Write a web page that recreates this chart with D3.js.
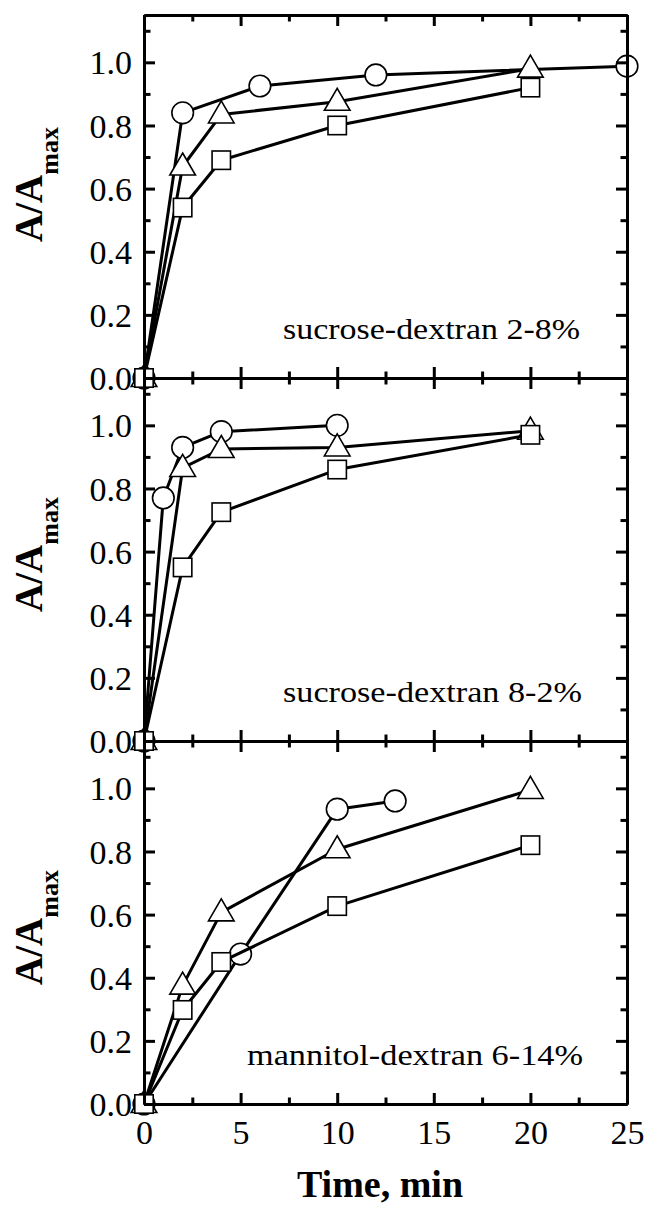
<!DOCTYPE html>
<html>
<head>
<meta charset="utf-8">
<script src="https://cdn.jsdelivr.net/npm/d3@7"></script>
<style>
  html, body { margin: 0; padding: 0; background: #fff; }
  svg { display: block; }
  text { font-family: "Liberation Serif", "Times New Roman", serif; fill: #000; }
</style>
</head>
<body>
<svg id="chart" width="649" height="1209"></svg>
<script>
// ---- data ----
const panelLabels = ["sucrose-dextran 2-8%", "sucrose-dextran 8-2%", "mannitol-dextran 6-14%"];
const xTickValues = [0, 5, 10, 15, 20, 25];
const xMinorTickValues = [2.5, 7.5, 12.5, 17.5, 22.5];
const yTickValues = [0, 0.2, 0.4, 0.6, 0.8, 1.0];
const yMinorTickValues = [0.1, 0.3, 0.5, 0.7, 0.9, 1.1];

// panel 1: sucrose-dextran 2-8%
const p1CircleT = [0, 2, 6, 12, 25];
const p1CircleV = [0, 0.84, 0.925, 0.96, 0.988];
const p1TriangleT = [0, 2, 4, 10, 20];
const p1TriangleV = [0, 0.67, 0.835, 0.875, 0.98];
const p1SquareT = [0, 2, 4, 10, 20];
const p1SquareV = [0, 0.54, 0.69, 0.80, 0.92];

// panel 2: sucrose-dextran 8-2%
const p2CircleT = [0, 1, 2, 4, 10];
const p2CircleV = [0, 0.77, 0.93, 0.98, 1.0];
const p2TriangleT = [0, 2, 4, 10, 20];
const p2TriangleV = [0, 0.865, 0.925, 0.93, 0.983];
const p2SquareT = [0, 2, 4, 10, 20];
const p2SquareV = [0, 0.55, 0.725, 0.86, 0.97];

// panel 3: mannitol-dextran 6-14%
const p3CircleT = [0, 5, 10, 13];
const p3CircleV = [0, 0.475, 0.934, 0.96];
const p3TriangleT = [0, 2, 4, 10, 20];
const p3TriangleV = [0, 0.375, 0.607, 0.807, 0.995];
const p3SquareT = [0, 2, 4, 10, 20];
const p3SquareV = [0, 0.298, 0.45, 0.627, 0.82];

const panelSeries = [
  [{shape: "circle", t: p1CircleT, v: p1CircleV}, {shape: "triangle", t: p1TriangleT, v: p1TriangleV}, {shape: "square", t: p1SquareT, v: p1SquareV}],
  [{shape: "circle", t: p2CircleT, v: p2CircleV}, {shape: "triangle", t: p2TriangleT, v: p2TriangleV}, {shape: "square", t: p2SquareT, v: p2SquareV}],
  [{shape: "circle", t: p3CircleT, v: p3CircleV}, {shape: "triangle", t: p3TriangleT, v: p3TriangleV}, {shape: "square", t: p3SquareT, v: p3SquareV}]
];

// ---- layout ----
const left = 144, right = 627, top0 = 15, panelH = 363;
const annot = [{x: 283, len: 297}, {x: 283, len: 299}, {x: 247, len: 336}];
const annotBaselineFromBottom = 39;
const ylabelShift = [-12, -5, 5];
const tickFont = 34;

const svg = d3.select("#chart");
const x = d3.scaleLinear().domain([0, 25]).range([left, right]);

const sym = {
  circle: g => g.append("circle").attr("r", 10.8),
  square: g => g.append("rect").attr("x", -9.2).attr("y", -9.2).attr("width", 18.4).attr("height", 18.4),
  triangle: g => g.append("path").attr("d", "M0,-13.5L12.8,8.5L-12.8,8.5Z")
};

panelSeries.forEach((series, pi) => {
  const pTop = top0 + pi * panelH;
  const pBot = pTop + panelH;
  const y = d3.scaleLinear().domain([0, 1.15]).range([pBot, pTop]);
  const g = svg.append("g");

  // series
  series.forEach(s => {
    const pts = s.t.map((t, i) => [t, s.v[i]]);
    const line = d3.line().x(d => x(d[0])).y(d => y(d[1]));
    g.append("path").datum(pts).attr("d", line)
      .attr("fill", "none").attr("stroke", "#000").attr("stroke-width", 3).attr("stroke-linejoin", "round");
    pts.forEach(p => {
      const m = g.append("g").attr("transform", `translate(${x(p[0])},${y(p[1])})`);
      sym[s.shape](m).attr("fill", "#fff").attr("stroke", "#000").attr("stroke-width", 1.6);
    });
  });

  // axes (ticks inward)
  const axStyle = sel => {
    sel.selectAll("path.domain").attr("stroke-width", 3).attr("stroke", "#000");
    sel.selectAll(".tick line").attr("stroke-width", 3).attr("stroke", "#000");
  };
  // bottom
  const bAx = g.append("g").attr("transform", `translate(0,${pBot})`)
    .call(d3.axisBottom(x).tickValues(xTickValues).tickSize(-11).tickSizeOuter(0).tickFormat(pi === 2 ? d3.format("d") : ""))
    .call(axStyle);
  bAx.selectAll("text").attr("y", 40).attr("dy", 0).attr("font-size", tickFont);
  g.append("g").attr("transform", `translate(0,${pBot})`)
    .call(d3.axisBottom(x).tickValues(xMinorTickValues).tickSize(-6.5).tickSizeOuter(0).tickFormat(""))
    .call(axStyle);
  // top
  g.append("g").attr("transform", `translate(0,${pTop})`)
    .call(d3.axisTop(x).tickValues(xTickValues).tickSize(-11).tickSizeOuter(0).tickFormat(""))
    .call(axStyle);
  g.append("g").attr("transform", `translate(0,${pTop})`)
    .call(d3.axisTop(x).tickValues(xMinorTickValues).tickSize(-6.5).tickSizeOuter(0).tickFormat(""))
    .call(axStyle);
  // left
  const lAx = g.append("g").attr("transform", `translate(${left},0)`)
    .call(d3.axisLeft(y).tickValues(yTickValues).tickSize(-11).tickSizeOuter(0).tickPadding(12).tickFormat(d3.format(".1f")))
    .call(axStyle);
  lAx.selectAll("text").attr("font-size", tickFont).attr("dy", "0.34em");
  g.append("g").attr("transform", `translate(${left},0)`)
    .call(d3.axisLeft(y).tickValues(yMinorTickValues).tickSize(-6.5).tickSizeOuter(0).tickFormat(""))
    .call(axStyle);
  // right
  g.append("g").attr("transform", `translate(${right},0)`)
    .call(d3.axisRight(y).tickValues(yTickValues).tickSize(-11).tickSizeOuter(0).tickFormat(""))
    .call(axStyle);
  g.append("g").attr("transform", `translate(${right},0)`)
    .call(d3.axisRight(y).tickValues(yMinorTickValues).tickSize(-6.5).tickSizeOuter(0).tickFormat(""))
    .call(axStyle);

  // annotation
  g.append("text")
    .attr("x", annot[pi].x).attr("y", pBot - annotBaselineFromBottom)
    .attr("font-size", 29)
    .attr("textLength", annot[pi].len).attr("lengthAdjust", "spacingAndGlyphs")
    .text(panelLabels[pi]);

  // y label
  const cy = (pTop + pBot) / 2 + ylabelShift[pi];
  const yl = svg.append("text")
    .attr("transform", `translate(42,${cy}) rotate(-90)`)
    .attr("text-anchor", "middle").attr("font-weight", "bold").attr("font-size", 39);
  yl.append("tspan").text("A/A");
  yl.append("tspan").attr("font-size", 26).attr("dy", 16).text("max");
});

// x axis title
svg.append("text").attr("x", 380).attr("y", 1197).attr("text-anchor", "middle")
  .attr("font-weight", "bold").attr("font-size", 38).text("Time, min");
</script>
</body>
</html>
